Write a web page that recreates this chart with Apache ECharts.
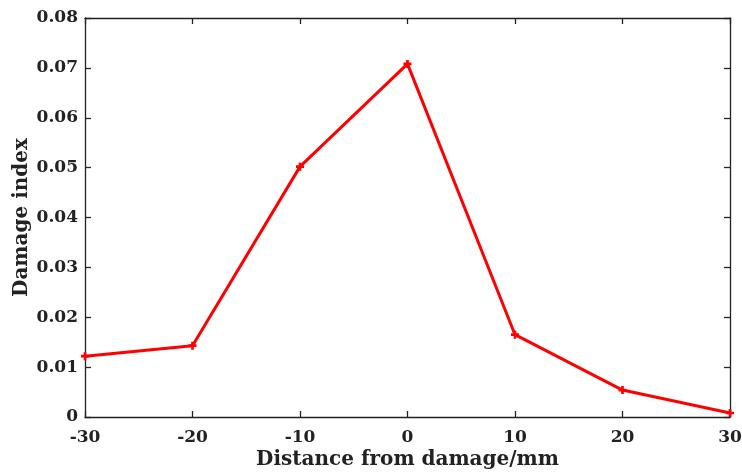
<!DOCTYPE html>
<html><head><meta charset="utf-8">
<script src="https://cdn.jsdelivr.net/npm/echarts@6/dist/echarts.min.js"></script>
<style>html,body{margin:0;padding:0;background:#fff}#c{width:742px;height:475px}</style>
</head><body><div id="c"></div>
<script>
const distances = [-30, -20, -10, 0, 10, 20, 30];
const damageIndex = [0.0122, 0.0143, 0.0502, 0.0708, 0.0165, 0.0054, 0.0008];
const xTicks = [-30, -20, -10, 0, 10, 20, 30];
const yTicks = [0, 0.01, 0.02, 0.03, 0.04, 0.05, 0.06, 0.07, 0.08];

const font = '"DejaVu Serif", "Liberation Serif", serif';
const chart = echarts.init(document.getElementById('c'));
const axisLine = {show: true, onZero: false, lineStyle: {color: '#222', width: 1.3}};
const tick = {inside: true, length: 6, lineStyle: {color: '#222', width: 1.3}};
chart.setOption({
  animation: false,
  grid: {left: 85, right: 12, top: 18, bottom: 58, containLabel: false, outerBoundsMode: 'none'},
  xAxis: [{
    type: 'value', min: -30, max: 30, interval: 10,
    name: 'Distance from damage/mm', nameLocation: 'middle', nameGap: 33, nameMoveOverlap: false,
    nameTextStyle: {fontFamily: font, fontWeight: 'bold', fontSize: 20, color: '#222'},
    axisLine, axisTick: tick,
    axisLabel: {fontFamily: font, fontWeight: 'bold', fontSize: 17, color: '#222', margin: 12,
      formatter: v => String(xTicks.find(x => Math.abs(x - v) < 1e-9))},
    splitLine: {show: false}
  }, {
    type: 'value', min: -30, max: 30, interval: 10, position: 'top',
    axisLine, axisTick: tick,
    axisLabel: {show: false}, splitLine: {show: false}
  }],
  yAxis: [{
    type: 'value', min: 0, max: 0.08, interval: 0.01,
    name: 'Damage index', nameLocation: 'middle', nameGap: 53, nameMoveOverlap: false,
    nameTextStyle: {fontFamily: font, fontWeight: 'bold', fontSize: 20, color: '#222'},
    axisLine, axisTick: tick,
    axisLabel: {fontFamily: font, fontWeight: 'bold', fontSize: 17, color: '#222', margin: 7,
      formatter: v => { const t = yTicks.find(y => Math.abs(y - v) < 1e-9); return t === 0 ? '0' : t.toFixed(2); }},
    splitLine: {show: false}
  }, {
    type: 'value', min: 0, max: 0.08, interval: 0.01, position: 'right',
    axisLine, axisTick: tick,
    axisLabel: {show: false}, splitLine: {show: false}
  }],
  series: [{
    type: 'line',
    data: distances.map((d, i) => [d, damageIndex[i]]),
    lineStyle: {color: '#ff0000', width: 3},
    itemStyle: {color: '#ff0000'},
    symbol: 'path://M2,0H4V2H6V4H4V6H2V4H0V2H2Z',
    symbolSize: 8,
    clip: false
  }]
});
</script></body></html>
